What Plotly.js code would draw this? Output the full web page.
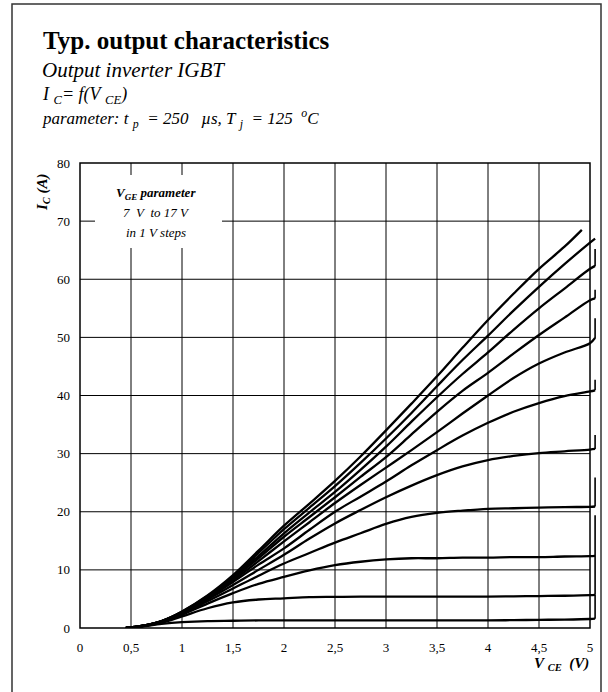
<!DOCTYPE html>
<html>
<head>
<meta charset="utf-8">
<script src="https://cdn.plot.ly/plotly-3.0.1.min.js"></script>
<style>
  html, body { margin: 0; padding: 0; background: #fff; }
  #chart { width: 608px; height: 692px; }
</style>
</head>
<body>
<div id="chart"></div>
<script>
// Collector-emitter voltage grid (V)
const vce = [0.45, 0.6, 0.8, 1.0, 1.25, 1.5, 1.75, 2.0, 2.25, 2.5, 2.75, 3.0, 3.25, 3.5, 3.75, 4.0, 4.25, 4.5, 4.75, 5.0];

// Collector current (A) per gate-emitter voltage
const ic07 = [0, 0.25, 0.7, 1.0, 1.2, 1.25, 1.3, 1.3, 1.3, 1.3, 1.3, 1.3, 1.3, 1.3, 1.3, 1.3, 1.35, 1.4, 1.45, 1.55];
const ic08 = [0, 0.3, 0.9, 2.0, 3.4, 4.4, 4.9, 5.1, 5.3, 5.35, 5.4, 5.4, 5.4, 5.4, 5.4, 5.4, 5.45, 5.5, 5.55, 5.65];
const ic09 = [0, 0.3, 1.0, 2.3, 4.2, 6.0, 7.6, 8.8, 9.9, 10.8, 11.4, 11.8, 12.0, 12.0, 12.1, 12.1, 12.2, 12.2, 12.3, 12.35];
const ic10 = [0, 0.3, 1.05, 2.4, 4.6, 6.8, 9.0, 11.1, 12.9, 14.7, 16.3, 17.9, 19.1, 19.8, 20.2, 20.5, 20.6, 20.7, 20.8, 20.85];
const ic11 = [0, 0.32, 1.1, 2.5, 4.9, 7.4, 10.0, 12.6, 15.4, 18.0, 20.3, 22.5, 24.5, 26.3, 27.8, 28.9, 29.6, 30.1, 30.4, 30.7];
const ic12 = [0, 0.33, 1.1, 2.6, 5.1, 7.9, 10.9, 13.7, 16.9, 20.0, 22.6, 25.2, 28.0, 30.6, 33.1, 35.3, 37.2, 38.7, 39.9, 40.7];
const ic13 = [0, 0.33, 1.15, 2.65, 5.2, 8.2, 11.5, 14.9, 18.2, 21.5, 24.6, 27.6, 30.6, 33.7, 36.9, 40.0, 43.0, 45.5, 47.4, 49.0];
const ic14 = [0, 0.34, 1.15, 2.7, 5.3, 8.5, 12.0, 15.7, 19.1, 22.5, 26.0, 29.4, 33.3, 37.2, 40.8, 43.9, 47.2, 50.4, 53.4, 56.4];
const ic15 = [0, 0.35, 1.2, 2.75, 5.4, 8.7, 12.4, 16.3, 19.9, 23.4, 27.2, 31.2, 35.5, 39.7, 43.7, 47.4, 51.3, 55.0, 58.4, 61.8];
const ic16 = [0, 0.35, 1.2, 2.8, 5.5, 8.9, 12.9, 17.0, 20.7, 24.4, 28.4, 32.6, 37.0, 41.6, 46.1, 50.3, 54.6, 58.7, 62.6, 66.3];
const ic17 = [0, 0.35, 1.2, 2.85, 5.6, 9.1, 13.3, 17.6, 21.4, 25.3, 29.5, 34.0, 38.6, 43.3, 48.2, 53.0, 57.5, 61.8, 65.6, null];

const gateVolts = [7, 8, 9, 10, 11, 12, 13, 14, 15, 16, 17];

// Last point of each curve and the short vertical rise drawn at its end
const endV  = [5.05, 5.05, 5.05, 5.05, 5.05, 5.05, 5.05, 5.05, 5.05, 5.05, 4.92];
const endI  = [1.6, 5.7, 12.4, 20.9, 30.8, 40.9, 49.9, 56.7, 62.3, 67.0, 68.5];
const hookI = [5.7, 12.4, 19.4, 25.9, 33.2, 42.7, 53.3, 58.2, 65.2, null, null];

// Axis ticks
const xTickVals = [0, 0.5, 1, 1.5, 2, 2.5, 3, 3.5, 4, 4.5, 5];
const xTickText = ['0', '0,5', '1', '1,5', '2', '2,5', '3', '3,5', '4', '4,5', '5'];
const yTickVals = [0, 10, 20, 30, 40, 50, 60, 70, 80];

const curves = [ic07, ic08, ic09, ic10, ic11, ic12, ic13, ic14, ic15, ic16, ic17];

// Page geometry
const W = 608, H = 692;
const M = { l: 80, r: 10, t: 163, b: 64 };
const plotW = W - M.l - M.r;
const plotH = H - M.t - M.b;
const xMax = plotW / 102;          // 102 px per volt, leaves room past 5 V
const xEnd = 5, yEnd = 80;
const FONT = 'Liberation Serif';
const NB = '\u00a0';

const pxX = px => (px - M.l) / plotW;
const pxY = py => (H - M.b - py) / plotH;

// Each curve: smooth body, then its end point and the thin vertical rise
const traces = [];
curves.forEach((ic, k) => {
  const x = [], y = [];
  vce.forEach((v, i) => { if (ic[i] !== null) { x.push(v); y.push(ic[i]); } });
  x.push(endV[k]); y.push(endI[k]);
  traces.push({
    type: 'scatter', mode: 'lines', x: x, y: y,
    name: gateVolts[k] + ' V', showlegend: false, hoverinfo: 'skip',
    line: { color: '#000', width: 2.3, shape: 'spline', smoothing: 1.0 }
  });
  if (hookI[k] !== null) {
    traces.push({
      type: 'scatter', mode: 'lines',
      x: [endV[k], endV[k]], y: [endI[k], hookI[k]],
      showlegend: false, hoverinfo: 'skip',
      line: { color: '#000', width: 1.6 }
    });
  }
});

const shapes = [];
xTickVals.filter(v => v > 0 && v < xEnd).forEach(v => shapes.push({
  type: 'line', xref: 'x', yref: 'y', x0: v, x1: v, y0: 0, y1: yEnd,
  line: { color: '#000', width: 1 }, layer: 'below'
}));
yTickVals.filter(v => v > 0 && v < yEnd).forEach(v => shapes.push({
  type: 'line', xref: 'x', yref: 'y', x0: 0, x1: xEnd, y0: v, y1: v,
  line: { color: '#000', width: 1 }, layer: 'below'
}));
// plot frame
shapes.push({
  type: 'rect', xref: 'paper', yref: 'paper', x0: 0, x1: xEnd / xMax, y0: 0, y1: 1,
  line: { color: '#000', width: 1.5 }, layer: 'below'
});
// white panel behind the gate voltage note
shapes.push({
  type: 'rect', xref: 'paper', yref: 'paper',
  x0: pxX(95), x1: pxX(222), y0: pxY(248), y1: pxY(175),
  fillcolor: '#fff', line: { width: 0 }, layer: 'above'
});
// outer page frame
shapes.push({
  type: 'rect', xref: 'paper', yref: 'paper',
  x0: pxX(12), x1: pxX(601), y0: pxY(696), y1: pxY(4),
  line: { color: '#333', width: 1.5 }, layer: 'above'
});

function note(text, x, y, size, opts) {
  return Object.assign({
    text: text, xref: 'paper', yref: 'paper', x: pxX(x), y: pxY(y),
    xanchor: 'left', yanchor: 'middle', showarrow: false,
    font: { family: FONT, size: size, color: '#000' }
  }, opts || {});
}

const annotations = [
  note('<i>Output inverter IGBT</i>', 40, 70, 21),
  note('<i>I' + NB + '<sub>C</sub>=' + NB + 'f(V' + NB + '<sub>CE</sub>)</i>', 40, 95, 18),
  note('<i>parameter: t' + NB + '<sub>p</sub>' + NB + ' = 250' + NB + NB + ' µs, T' + NB + '<sub>j</sub>' + NB + ' = 125' + NB + ' <sup>o</sup>C</i>', 40, 119, 17),
  note('<b><i>I<sub>C</sub> (A)</i></b>', 43, 192, 15, { xanchor: 'center', textangle: -90 }),
  note('<b><i>V' + NB + '<sub>CE</sub>' + NB + ' (V)</i></b>', 591, 664, 15, { xanchor: 'right' }),
  note('<b><i>V<sub>GE</sub> parameter</i></b>', 156, 193, 13, { xanchor: 'center' }),
  note('<i>7' + NB + ' V' + NB + ' to 17 V</i>', 156, 212, 13, { xanchor: 'center' }),
  note('<i>in 1 V steps</i>', 156, 232, 13, { xanchor: 'center' })
];

const layout = {
  width: W, height: H,
  margin: M,
  paper_bgcolor: '#fff', plot_bgcolor: '#fff',
  showlegend: false,
  title: {
    text: '<b>Typ. output characteristics</b>',
    font: { family: FONT, size: 25, color: '#000' },
    xref: 'container', yref: 'container',
    x: 43 / W, xanchor: 'left', y: 1 - 40 / H, yanchor: 'middle'
  },
  xaxis: {
    range: [0, xMax], tickvals: xTickVals, ticktext: xTickText,
    showgrid: false, zeroline: false, showline: false, ticks: '',
    ticklabelstandoff: 10, fixedrange: true,
    tickfont: { family: FONT, size: 13, color: '#000' }
  },
  yaxis: {
    range: [0, yEnd], tickvals: yTickVals,
    showgrid: false, zeroline: false, showline: false, ticks: '',
    ticklabelstandoff: 9, fixedrange: true,
    tickfont: { family: FONT, size: 13, color: '#000' }
  },
  shapes: shapes,
  annotations: annotations
};

Plotly.newPlot('chart', traces, layout, { staticPlot: true, displayModeBar: false });
</script>
</body>
</html>
